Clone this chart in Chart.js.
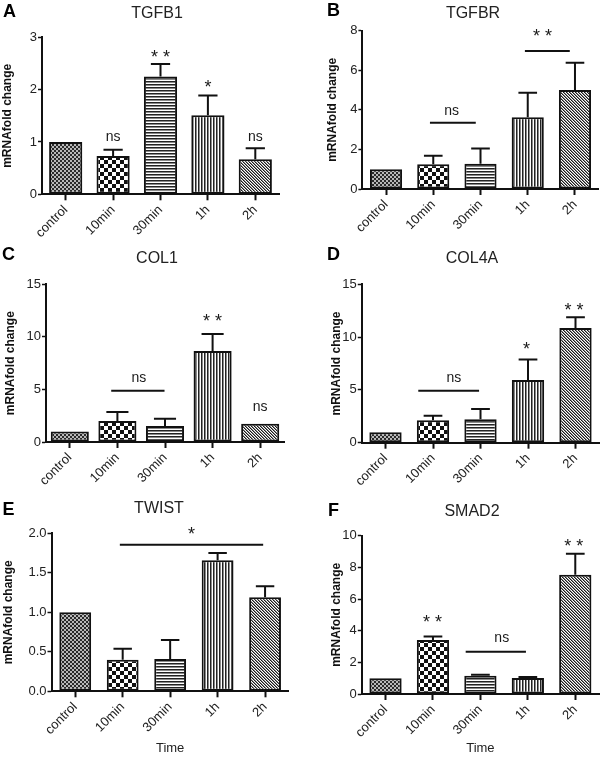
<!DOCTYPE html>
<html><head><meta charset="utf-8">
<script src="https://cdn.jsdelivr.net/npm/chart.js@4.4.0/dist/chart.umd.min.js"></script>
<style>
html,body{margin:0;padding:0;background:#fff;}
body{width:600px;height:757px;position:relative;overflow:hidden;}
canvas{position:absolute;}
</style>
</head><body>
<canvas id="cA" width="300" height="238" style="left:0;top:0"></canvas>
<canvas id="cB" width="300" height="238" style="left:300px;top:0"></canvas>
<canvas id="cC" width="300" height="257" style="left:0;top:238px"></canvas>
<canvas id="cD" width="300" height="257" style="left:300px;top:238px"></canvas>
<canvas id="cE" width="300" height="262" style="left:0;top:495px"></canvas>
<canvas id="cF" width="300" height="262" style="left:300px;top:495px"></canvas>
<script>
// ---------- data ----------
const categories = ['control', '10min', '30min', '1h', '2h'];

const tgfb1Mean = [1.0, 0.73, 2.25, 1.51, 0.67];
const tgfb1Sem  = [0, 0.12, 0.24, 0.38, 0.21];
const tgfbrMean = [1.0, 1.25, 1.28, 3.62, 5.0];
const tgfbrSem  = [0, 0.43, 0.77, 1.24, 1.38];
const col1Mean  = [1.0, 2.0, 1.52, 8.66, 1.74];
const col1Sem   = [0, 0.85, 0.70, 1.62, 0];
const col4aMean = [1.0, 2.12, 2.21, 5.94, 10.86];
const col4aSem  = [0, 0.44, 0.98, 1.95, 1.01];
const twistMean = [1.0, 0.40, 0.41, 1.66, 1.19];
const twistSem  = [0, 0.14, 0.24, 0.09, 0.14];
const smad2Mean = [1.0, 3.41, 1.16, 1.01, 7.54];
const smad2Sem  = [0, 0.23, 0.06, 0.06, 1.32];

const tgfb1Ticks = [0, 1, 2, 3];
const tgfbrTicks = [0, 2, 4, 6, 8];
const col1Ticks  = [0, 5, 10, 15];
const col4aTicks = [0, 5, 10, 15];
const twistTicks = [0, 0.5, 1, 1.5, 2];
const twistTickLabels = ['0.0', '0.5', '1.0', '1.5', '2.0'];
const smad2Ticks = [0, 2, 4, 6, 8, 10];

// significance marks: category index, value, text
const tgfb1Marks = [{at: 1, y: 1.10, text: 'ns'}, {at: 2, y: 2.69, text: '* *'}, {at: 3, y: 2.12, text: '*'}, {at: 4, y: 1.10, text: 'ns'}];
const tgfb1Lines = [];
const tgfbrMarks = [{at: 1.39, y: 3.94, text: 'ns'}, {at: 3.31, y: 7.92, text: '* *'}];
const tgfbrLines = [{from: 0.93, to: 1.90, y: 3.35}, {from: 2.94, to: 3.89, y: 6.97}];
const col1Marks  = [{at: 1.45, y: 6.06, text: 'ns'}, {at: 3.0, y: 11.83, text: '* *'}, {at: 4.0, y: 3.30, text: 'ns'}];
const col1Lines  = [{from: 0.87, to: 1.99, y: 4.88}];
const col4aMarks = [{at: 1.44, y: 6.1, text: 'ns'}, {at: 2.97, y: 9.19, text: '*'}, {at: 3.97, y: 12.88, text: '* *'}];
const col4aLines = [{from: 0.69, to: 1.97, y: 4.92}];
const twistMarks = [{at: 2.45, y: 2.03, text: '*'}];
const twistLines = [{from: 0.94, to: 3.96, y: 1.856}];
const smad2Marks = [{at: 2.45, y: 3.52, text: 'ns'}, {at: 0.99, y: 4.78, text: '* *'}, {at: 3.97, y: 9.56, text: '* *'}];
const smad2Lines = [{from: 1.69, to: 2.96, y: 2.67}];

// ---------- patterns ----------
function makePattern(w, h, draw) {
  const c = document.createElement('canvas');
  c.width = w; c.height = h;
  const g = c.getContext('2d');
  g.fillStyle = '#fff'; g.fillRect(0, 0, w, h);
  draw(g);
  return g.createPattern(c, 'repeat');
}
const patControl = makePattern(4, 4, g => {
  g.fillStyle = '#b8b8b8'; g.fillRect(0, 0, 4, 4);
  g.fillStyle = '#2a2a2a'; g.fillRect(0, 0, 2, 2); g.fillRect(2, 2, 2, 2);
});
const patChecker = makePattern(8, 8, g => {
  g.fillStyle = '#111'; g.fillRect(0, 0, 4, 4); g.fillRect(4, 4, 4, 4);
});
const patHoriz = makePattern(3, 3, g => {
  g.fillStyle = '#222'; g.fillRect(0, 0, 3, 1);
  g.fillStyle = '#8a8a8a'; g.fillRect(0, 1, 3, 1);
});
const patVert = makePattern(3, 3, g => {
  g.fillStyle = '#222'; g.fillRect(0, 0, 1, 3);
  g.fillStyle = '#8a8a8a'; g.fillRect(1, 0, 1, 3);
});
const patDiag = makePattern(3, 3, g => {
  for (let i = 0; i < 3; i++) {
    g.fillStyle = '#1a1a1a'; g.fillRect(i, i, 1, 1);
    g.fillStyle = '#8a8a8a'; g.fillRect((i + 1) % 3, i, 1, 1);
  }
});
const barPatterns = [patControl, patChecker, patHoriz, patVert, patDiag];

// ---------- panels ----------
const FONT = '"Liberation Sans", Arial, sans-serif';
const panels = [
  {id: 'cA', cx: 0, cy: 0, cw: 300, ch: 238, area: {l: 42, r: 279, t: 37.3, b: 194.3}, bar: 0.70,
   letter: 'A', letterPos: [9.5, 10], title: 'TGFB1', titlePos: [157, 12], yTitleX: 8,
   mean: tgfb1Mean, sem: tgfb1Sem, ticks: tgfb1Ticks, tickLabels: null, marks: tgfb1Marks, lines: tgfb1Lines, xTitle: ''},
  {id: 'cB', cx: 300, cy: 0, cw: 300, ch: 238, area: {l: 362.4, r: 598.6, t: 30.7, b: 189}, bar: 0.68,
   letter: 'B', letterPos: [333.5, 9.5], title: 'TGFBR', titlePos: [473, 12], yTitleX: 333,
   mean: tgfbrMean, sem: tgfbrSem, ticks: tgfbrTicks, tickLabels: null, marks: tgfbrMarks, lines: tgfbrLines, xTitle: ''},
  {id: 'cC', cx: 0, cy: 238, cw: 300, ch: 257, area: {l: 46, r: 284, t: 284.3, b: 442}, bar: 0.80,
   letter: 'C', letterPos: [8.5, 253], title: 'COL1', titlePos: [157, 257], yTitleX: 11,
   mean: col1Mean, sem: col1Sem, ticks: col1Ticks, tickLabels: null, marks: col1Marks, lines: col1Lines, xTitle: ''},
  {id: 'cD', cx: 300, cy: 238, cw: 300, ch: 257, area: {l: 361.75, r: 599.25, t: 284.3, b: 442.7}, bar: 0.68,
   letter: 'D', letterPos: [333.5, 253], title: 'COL4A', titlePos: [472, 257], yTitleX: 336.7,
   mean: col4aMean, sem: col4aSem, ticks: col4aTicks, tickLabels: null, marks: col4aMarks, lines: col4aLines, xTitle: ''},
  {id: 'cE', cx: 0, cy: 495, cw: 300, ch: 262, area: {l: 51.5, r: 288.8, t: 533.3, b: 691.3}, bar: 0.67,
   letter: 'E', letterPos: [8.5, 508], title: 'TWIST', titlePos: [159, 507], yTitleX: 9,
   mean: twistMean, sem: twistSem, ticks: twistTicks, tickLabels: twistTickLabels, marks: twistMarks, lines: twistLines, xTitle: 'Time'},
  {id: 'cF', cx: 300, cy: 495, cw: 300, ch: 262, area: {l: 361.8, r: 599, t: 535.7, b: 694}, bar: 0.68,
   letter: 'F', letterPos: [333.5, 509], title: 'SMAD2', titlePos: [472, 510], yTitleX: 336.7,
   mean: smad2Mean, sem: smad2Sem, ticks: smad2Ticks, tickLabels: null, marks: smad2Marks, lines: smad2Lines, xTitle: 'Time'}
];

function drawCentered(ctx, text, x, y) {
  ctx.textAlign = 'center';
  ctx.textBaseline = 'alphabetic';
  const m = ctx.measureText(text);
  ctx.fillText(text, x, y + (m.actualBoundingBoxAscent - m.actualBoundingBoxDescent) / 2);
}

function decorPlugin(p) {
  return {
    id: 'decor_' + p.id,
    afterDatasetsDraw(chart) {
      const ctx = chart.ctx;
      const ys = chart.scales.y;
      const meta = chart.getDatasetMeta(0);
      ctx.save();
      ctx.strokeStyle = '#111';
      ctx.lineWidth = 2;
      meta.data.forEach((bar, i) => {
        const s = p.sem[i];
        if (!s) return;
        const top = ys.getPixelForValue(p.mean[i] + s);
        const half = bar.width * 0.29;
        ctx.beginPath();
        ctx.moveTo(bar.x, bar.y);
        ctx.lineTo(bar.x, top);
        ctx.moveTo(bar.x - half, top);
        ctx.lineTo(bar.x + half, top);
        ctx.stroke();
      });
      ctx.restore();
    },
    afterDraw(chart) {
      const ctx = chart.ctx;
      const xs = chart.scales.x, ys = chart.scales.y;
      ctx.save();
      ctx.fillStyle = '#1a1a1a';
      ctx.strokeStyle = '#111';
      ctx.lineWidth = 2;
      p.lines.forEach(l => {
        const y = ys.getPixelForValue(l.y);
        ctx.beginPath();
        ctx.moveTo(xs.getPixelForValue(l.from), y);
        ctx.lineTo(xs.getPixelForValue(l.to), y);
        ctx.stroke();
      });
      p.marks.forEach(m => {
        ctx.font = (m.text === 'ns' ? '14px ' : '18px ') + FONT;
        drawCentered(ctx, m.text, xs.getPixelForValue(m.at), ys.getPixelForValue(m.y));
      });
      ctx.fillStyle = '#222';
      ctx.font = '16px ' + FONT;
      drawCentered(ctx, p.title, p.titlePos[0] - p.cx, p.titlePos[1] - p.cy);
      ctx.fillStyle = '#000';
      ctx.font = 'bold 18px ' + FONT;
      drawCentered(ctx, p.letter, p.letterPos[0] - p.cx, p.letterPos[1] - p.cy);
      ctx.restore();
    }
  };
}

panels.forEach(p => {
  const a = p.area;
  const yTitleFontSize = 12;
  new Chart(document.getElementById(p.id), {
    type: 'bar',
    data: {
      labels: categories,
      datasets: [{
        data: p.mean,
        backgroundColor: barPatterns,
        borderColor: '#111',
        borderWidth: 2,
        borderSkipped: false,
        barPercentage: p.bar,
        categoryPercentage: 1.0
      }]
    },
    options: {
      responsive: false,
      animation: false,
      events: [],
      layout: {padding: {left: 0, top: a.t - p.cy, right: (p.cx + p.cw) - a.r, bottom: 0}},
      plugins: {legend: {display: false}, tooltip: {enabled: false}, title: {display: false}},
      scales: {
        x: {
          type: 'category',
          offset: true,
          grid: {display: true, drawOnChartArea: false, drawTicks: true, tickLength: 6, tickWidth: 2, tickColor: '#111', offset: false},
          border: {display: true, color: '#111', width: 2},
          ticks: {color: '#222', font: {family: FONT, size: 13}, minRotation: 45, maxRotation: 45, padding: 2, autoSkip: false},
          title: {display: !!p.xTitle, text: p.xTitle, color: '#222', font: {family: FONT, size: 13}, padding: {top: 0, bottom: 1.2}},
          afterFit(scale) { scale.height = (p.cy + p.ch) - a.b; }
        },
        y: {
          min: p.ticks[0],
          max: p.ticks[p.ticks.length - 1],
          afterBuildTicks(scale) { scale.ticks = p.ticks.map(v => ({value: v})); },
          grid: {display: true, drawOnChartArea: false, drawTicks: true, tickLength: 4, tickWidth: 1.5, tickColor: '#111'},
          border: {display: true, color: '#111', width: 2},
          ticks: {
            color: '#222', font: {family: FONT, size: 13}, padding: 1, autoSkip: false,
            callback: (v, i) => p.tickLabels ? p.tickLabels[i] : String(v)
          },
          title: {display: true, text: 'mRNAfold change', color: '#111', font: {family: FONT, size: yTitleFontSize, weight: 'bold'},
                  padding: {top: p.yTitleX - p.cx - yTitleFontSize * 1.2 / 2, bottom: 0}},
          afterFit(scale) { scale.width = a.l - p.cx; }
        }
      }
    },
    plugins: [decorPlugin(p)]
  });
});
</script>
</body></html>
